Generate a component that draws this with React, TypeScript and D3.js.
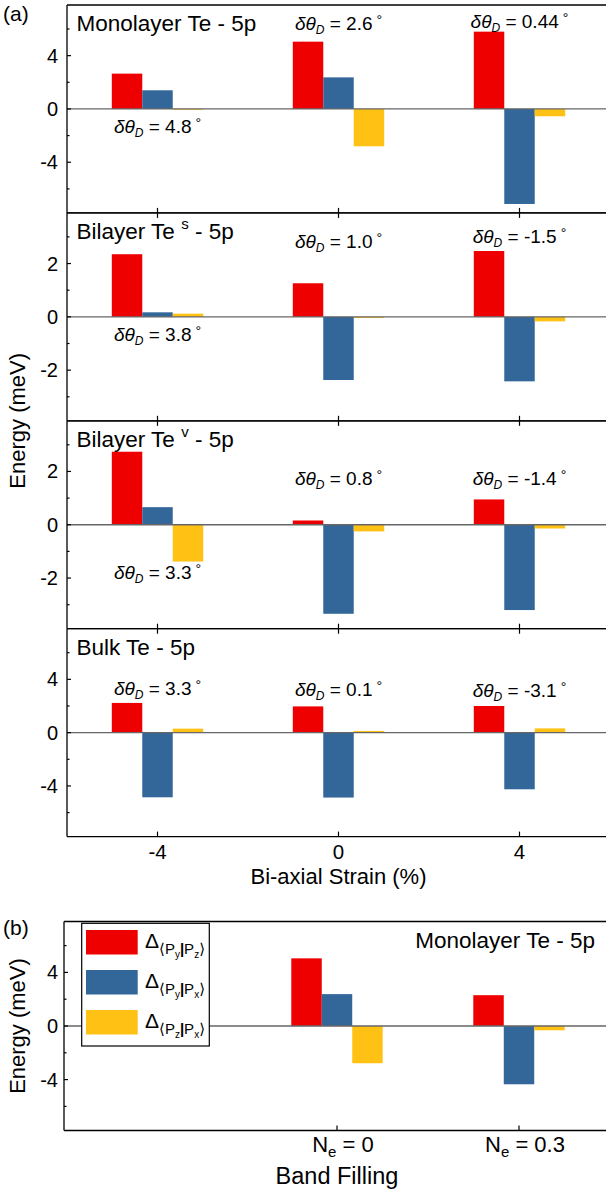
import React from 'react';
import * as d3 from 'd3';

// ---------- data ----------
const strains = [-4, 0, 4];
const seriesKeys = ['PyPz', 'PyPx', 'PzPx'];
const seriesColors = ['#EE0000', '#336699', '#FFC214'];

// Monolayer Te - 5p
const monoPyPz = [2.65, 5.05, 5.8];
const monoPyPx = [1.4, 2.37, -7.13];
const monoPzPx = [-0.06, -2.8, -0.55];
const monoDelta = ['4.8', '2.6', '0.44'];

// Bilayer Te^s - 5p
const bilSPyPz = [2.35, 1.26, 2.47];
const bilSPyPx = [0.17, -2.37, -2.42];
const bilSPzPx = [0.12, -0.04, -0.17];
const bilSDelta = ['3.8', '1.0', '-1.5'];

// Bilayer Te^v - 5p
const bilVPyPz = [2.74, 0.16, 0.95];
const bilVPyPx = [0.66, -3.34, -3.2];
const bilVPzPx = [-1.38, -0.25, -0.14];
const bilVDelta = ['3.3', '0.8', '-1.4'];

// Bulk Te - 5p
const bulkPyPz = [2.23, 1.97, 2.0];
const bulkPyPx = [-4.85, -4.87, -4.25];
const bulkPzPx = [0.3, 0.13, 0.32];
const bulkDelta = ['3.3', '0.1', '-3.1'];

// (b) Band filling, Monolayer Te - 5p
const fillings = ['0', '0.3'];
const fillPyPz = [5.05, 2.3];
const fillPyPx = [2.38, -4.35];
const fillPzPx = [-2.78, -0.32];

const yTickLabelsWide = ['-4', '0', '4'];
const yTickLabelsNarrow = ['-2', '0', '2'];
const xTickLabels = ['-4', '0', '4'];

// ---------- layout ----------
const W = 606;
const H = 1193;
const FONT = "'Liberation Sans', Arial, Helvetica, sans-serif";
const LEFT_A = 67;
const LEFT_B = 64;
const RIGHT = 610;
const PANEL_H = 207.9;
const TOP_A = 5;

const panels = [
  { name: 'Monolayer Te', sup: '', vals: [monoPyPz, monoPyPx, monoPzPx], delta: monoDelta, lim: 7.8, major: 4, labels: yTickLabelsWide, annY: [-1.35, 6.4, 6.55] },
  { name: 'Bilayer Te ', sup: 's', vals: [bilSPyPz, bilSPyPx, bilSPzPx], delta: bilSDelta, lim: 3.9, major: 2, labels: yTickLabelsNarrow, annY: [-0.65, 2.83, 3.0] },
  { name: 'Bilayer Te ', sup: 'v', vals: [bilVPyPz, bilVPyPx, bilVPzPx], delta: bilVDelta, lim: 3.9, major: 2, labels: yTickLabelsNarrow, annY: [-1.81, 1.72, 1.75] },
  { name: 'Bulk Te', sup: '', vals: [bulkPyPz, bulkPyPx, bulkPzPx], delta: bulkDelta, lim: 7.8, major: 4, labels: yTickLabelsWide, annY: [3.3, 3.22, 3.17] },
];

function DeltaTheta({ x, y, val }: { x: number; y: number; val: string }) {
  return (
    <text x={x} y={y} fontSize={19} textAnchor="middle" fontFamily={FONT} fill="#000">
      <tspan fontStyle="italic">δθ</tspan>
      <tspan fontStyle="italic" fontSize={12} dy={4}>D</tspan>
      <tspan dy={-4}>{` = ${val}`}</tspan>
      <tspan fontSize={14} dx={4} dy={-5}>°</tspan>
    </text>
  );
}

function LegendLabel({ x, y, a, b }: { x: number; y: number; a: string; b: string }) {
  return (
    <text x={x} y={y} fontSize={21} fontFamily={FONT} fill="#000">
      <tspan>Δ</tspan>
      <tspan fontSize={15} dy={6} fontFamily="'DejaVu Sans', sans-serif">⟨</tspan>
      <tspan fontSize={15}>P</tspan>
      <tspan fontSize={10} dy={4}>{a}</tspan>
      <tspan fontSize={15} dy={-4} fontWeight="bold">|</tspan>
      <tspan fontSize={15}>P</tspan>
      <tspan fontSize={10} dy={4}>{b}</tspan>
      <tspan fontSize={15} dy={-4} fontFamily="'DejaVu Sans', sans-serif">⟩</tspan>
    </text>
  );
}

function yTicks(lim: number, step: number) {
  const n = Math.floor(lim / step);
  const majors = d3.range(-n, n + 1).map((i) => i * step);
  const minors = d3.range(-n - 1, n + 1).map((i) => (i + 0.5) * step).filter((v) => Math.abs(v) <= lim);
  return { majors, minors };
}

export default function App() {
  const xA = d3.scalePoint<number>().domain(strains).range([LEFT_A, RIGHT]).padding(0.5);
  const stepA = xA.step();
  const groupW = stepA * 0.505;
  const sub = d3.scaleBand<string>().domain(seriesKeys).range([-groupW / 2, groupW / 2]).padding(0);

  const panelEls = panels.map((p, pi) => {
    const top = TOP_A + pi * PANEL_H;
    const bottom = top + PANEL_H;
    const y = d3.scaleLinear().domain([-p.lim, p.lim]).range([bottom, top]);
    const { majors, minors } = yTicks(p.lim, p.major);
    return (
      <g key={pi}>
        {strains.map((s, si) =>
          seriesKeys.map((k, ki) => {
            const v = p.vals[ki][si];
            const x0 = (xA(s) as number) + (sub(k) as number);
            return (
              <rect key={`${si}-${ki}`} x={x0} width={sub.bandwidth()} y={Math.min(y(v), y(0))} height={Math.abs(y(v) - y(0))} fill={seriesColors[ki]} />
            );
          })
        )}
        <line x1={LEFT_A} x2={RIGHT} y1={y(0)} y2={y(0)} stroke="#666" strokeWidth={1.3} />
        <line x1={LEFT_A} x2={RIGHT} y1={top} y2={top} stroke="#000" strokeWidth={1.3} />
        <line x1={LEFT_A} x2={RIGHT} y1={bottom} y2={bottom} stroke="#000" strokeWidth={1.3} />
        <line x1={LEFT_A} x2={LEFT_A} y1={top} y2={bottom} stroke="#000" strokeWidth={1.3} />
        {majors.map((m, mi) => (
          <g key={`M${m}`}>
            <line x1={LEFT_A} x2={LEFT_A + 4} y1={y(m)} y2={y(m)} stroke="#000" strokeWidth={1.2} />
            <text x={58} y={y(m) + 7} fontSize={20} textAnchor="end" fontFamily={FONT}>{p.labels[mi]}</text>
          </g>
        ))}
        {minors.map((m) => (
          <line key={`m${m}`} x1={LEFT_A} x2={LEFT_A + 2.5} y1={y(m)} y2={y(m)} stroke="#000" strokeWidth={1.2} />
        ))}
        {strains.map((s) => (
          <g key={`xt${s}`}>
            <line x1={xA(s)} x2={xA(s)} y1={bottom} y2={bottom - 5} stroke="#000" strokeWidth={1.2} />
            {pi > 0 && <line x1={xA(s)} x2={xA(s)} y1={top} y2={top + 5} stroke="#000" strokeWidth={1.2} />}
          </g>
        ))}
        <text x={76.5} y={top + 26} fontSize={22.5} fontFamily={FONT}>
          {p.name}
          {p.sup ? <tspan fontSize={15} dy={-10}>{p.sup}</tspan> : null}
          <tspan dy={p.sup ? 10 : 0}>{' - 5p'}</tspan>
        </text>
        {strains.map((s, si) => (
          <DeltaTheta key={`d${s}`} x={xA(s) as number} y={y(p.annY[si]) + 6.5} val={p.delta[si]} />
        ))}
      </g>
    );
  });

  const bottomA = TOP_A + 4 * PANEL_H;

  const topB = 921.5;
  const bottomB = 1130.5;
  const xB = d3.scalePoint<string>().domain(['', ...fillings]).range([LEFT_B, RIGHT]).padding(0.5);
  const yB = d3.scaleLinear().domain([-7.8, 7.8]).range([bottomB, topB]);
  const tB = yTicks(7.8, 4);
  const fillVals = [fillPyPz, fillPyPx, fillPzPx];

  return (
    <svg width={W} height={H} viewBox={`0 0 ${W} ${H}`} style={{ position: 'absolute', left: 0, top: 0, background: '#fff' }}>
      <rect width={W} height={H} fill="#fff" />
      <text x={3} y={21} fontSize={21} fontFamily={FONT}>(a)</text>
      {panelEls}
      {strains.map((s, i) => (
        <text key={`xl${s}`} x={xA(s)} y={bottomA + 22} fontSize={20.5} textAnchor="middle" fontFamily={FONT}>{xTickLabels[i]}</text>
      ))}
      <text x={xA(0)} y={bottomA + 47} fontSize={22} textAnchor="middle" fontFamily={FONT}>Bi-axial Strain (%)</text>
      <text transform={`translate(25, ${(TOP_A + bottomA) / 2}) rotate(-90)`} fontSize={22} textAnchor="middle" fontFamily={FONT}>Energy (meV)</text>

      <text x={3} y={935} fontSize={21} fontFamily={FONT}>(b)</text>
      {fillings.map((f, fi) =>
        seriesKeys.map((k, ki) => {
          const v = fillVals[ki][fi];
          const x0 = (xB(f) as number) + (sub(k) as number);
          return <rect key={`b${fi}-${ki}`} x={x0} width={sub.bandwidth()} y={Math.min(yB(v), yB(0))} height={Math.abs(yB(v) - yB(0))} fill={seriesColors[ki]} />;
        })
      )}
      <line x1={LEFT_B} x2={RIGHT} y1={yB(0)} y2={yB(0)} stroke="#666" strokeWidth={1.3} />
      <line x1={LEFT_B} x2={RIGHT} y1={topB} y2={topB} stroke="#000" strokeWidth={1.3} />
      <line x1={LEFT_B} x2={RIGHT} y1={bottomB} y2={bottomB} stroke="#000" strokeWidth={1.3} />
      <line x1={LEFT_B} x2={LEFT_B} y1={topB} y2={bottomB} stroke="#000" strokeWidth={1.3} />
      {tB.majors.map((m, i) => (
        <g key={`bM${m}`}>
          <line x1={LEFT_B} x2={LEFT_B + 4} y1={yB(m)} y2={yB(m)} stroke="#000" strokeWidth={1.2} />
          <text x={58} y={yB(m) + 7} fontSize={20} textAnchor="end" fontFamily={FONT}>{yTickLabelsWide[i]}</text>
        </g>
      ))}
      {tB.minors.map((m) => (
        <line key={`bm${m}`} x1={LEFT_B} x2={LEFT_B + 2.5} y1={yB(m)} y2={yB(m)} stroke="#000" strokeWidth={1.2} />
      ))}
      {fillings.map((f) => (
        <g key={`bx${f}`}>
          <line x1={xB(f)} x2={xB(f)} y1={bottomB} y2={bottomB - 5} stroke="#000" strokeWidth={1.2} />
          <text x={(xB(f) as number) + 6} y={bottomB + 21} fontSize={22} textAnchor="middle" fontFamily={FONT}>
            N<tspan fontSize={15} dy={5}>e</tspan><tspan dy={-5}>{` = ${f}`}</tspan>
          </text>
        </g>
      ))}
      <text x={xB('0')} y={bottomB + 53} fontSize={23.5} textAnchor="middle" fontFamily={FONT}>Band Filling</text>
      <text transform={`translate(25, ${(topB + bottomB) / 2}) rotate(-90)`} fontSize={22} textAnchor="middle" fontFamily={FONT}>Energy (meV)</text>
      <text x={595} y={948} fontSize={22.5} textAnchor="end" fontFamily={FONT}>Monolayer Te - 5p</text>

      <rect x={81.7} y={923.3} width={127.6} height={122.7} fill="#fff" stroke="#000" strokeWidth={1.2} />
      {seriesKeys.map((k, i) => (
        <rect key={`lg${k}`} x={86} y={930 + i * 40} width={51.7} height={24.5} fill={seriesColors[i]} />
      ))}
      <LegendLabel x={145} y={947.5} a="y" b="z" />
      <LegendLabel x={145} y={987.5} a="y" b="x" />
      <LegendLabel x={145} y={1027.5} a="z" b="x" />
    </svg>
  );
}
